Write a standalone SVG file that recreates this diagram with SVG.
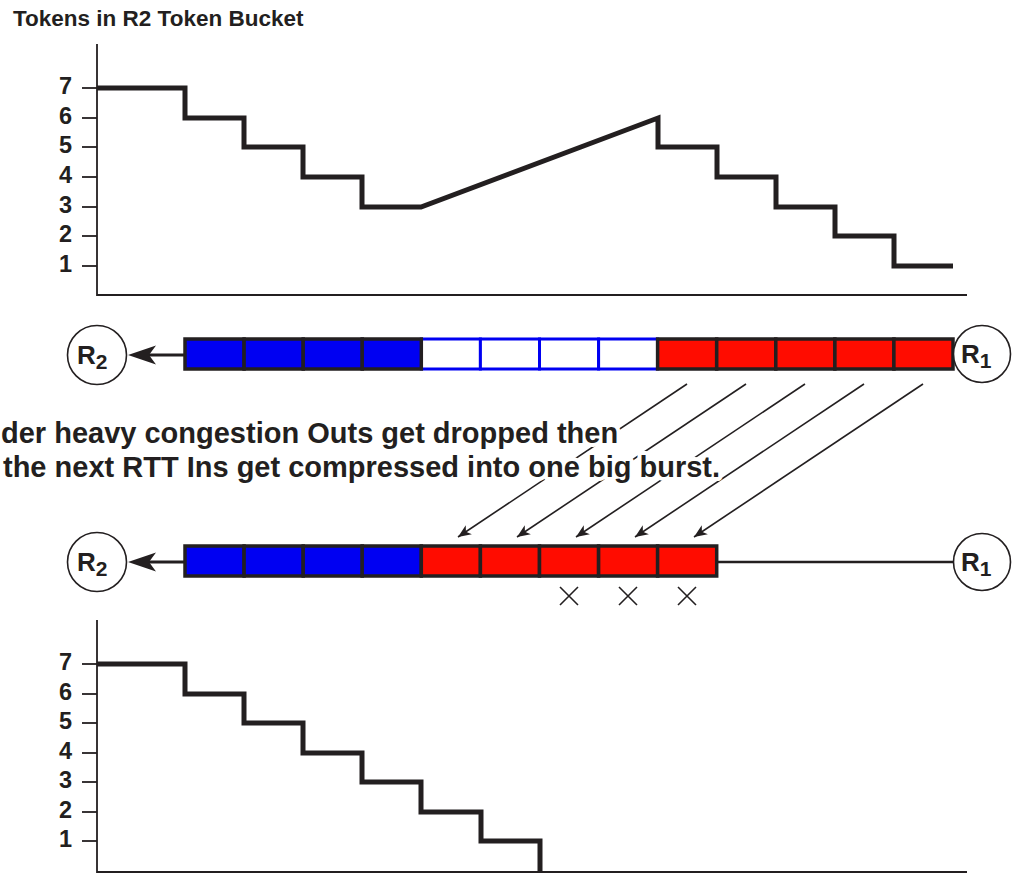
<svg xmlns="http://www.w3.org/2000/svg" width="1014" height="877" viewBox="0 0 1014 877">
  <style>
    text { font-family: "Liberation Sans", Arial, Helvetica, sans-serif; font-weight: bold; fill: #231f20; }
    .title { font-size: 22.5px; }
    .tick-label { font-size: 23.5px; text-anchor: end; }
    .caption { font-size: 29px; stroke: #ffffff; stroke-width: 8; stroke-linejoin: round; paint-order: stroke fill; }
    .rname { font-size: 26px; }
    .rsub { font-size: 21px; }
    .axis { stroke: #231f20; stroke-width: 1.8; fill: none; }
    .tick { stroke: #231f20; stroke-width: 1.8; }
    .level { stroke: #231f20; stroke-width: 5; fill: none; stroke-linejoin: miter; stroke-linecap: butt; }
    .cell-in { fill: #0000f2; stroke: #231f20; stroke-width: 3.5; }
    .cell-empty { fill: #ffffff; stroke: #0000f2; stroke-width: 3; }
    .cell-out { fill: #ff0c00; stroke: #231f20; stroke-width: 3.5; }
    .router { fill: #ffffff; stroke: #231f20; stroke-width: 1.6; }
    .link { stroke: #231f20; stroke-width: 3; fill: none; }
    .link-thin { stroke: #231f20; stroke-width: 2.4; fill: none; }
    .shift { stroke: #231f20; stroke-width: 1.6; fill: none; }
    .drop { stroke: #231f20; stroke-width: 1.6; }
  </style>
  <defs>
    <marker id="barb-small" viewBox="-14 -6 15 12" refX="0" refY="0" markerWidth="15" markerHeight="12" orient="auto" markerUnits="userSpaceOnUse">
      <path d="M0,0 L-13,-5.5 L-9.5,0 L-13,5.5 Z" fill="#231f20"/>
    </marker>
  </defs>

  <!-- upper token level chart -->
  <g id="chart-top">
    <text class="title" x="13" y="26">Tokens in R2 Token Bucket</text>
    <path class="axis" d="M97,44 V295 H967"/>
    <g class="tick">
      <line x1="82" y1="88" x2="97" y2="88"/>
      <line x1="82" y1="118" x2="97" y2="118"/>
      <line x1="82" y1="147" x2="97" y2="147"/>
      <line x1="82" y1="177" x2="97" y2="177"/>
      <line x1="82" y1="207" x2="97" y2="207"/>
      <line x1="82" y1="236" x2="97" y2="236"/>
      <line x1="82" y1="266" x2="97" y2="266"/>
    </g>
    <text class="tick-label" x="72" y="94">7</text>
    <text class="tick-label" x="72" y="124">6</text>
    <text class="tick-label" x="72" y="153">5</text>
    <text class="tick-label" x="72" y="183">4</text>
    <text class="tick-label" x="72" y="213">3</text>
    <text class="tick-label" x="72" y="242">2</text>
    <text class="tick-label" x="72" y="272">1</text>
    <polyline class="level" points="97,88 185,88 185,118 244,118 244,147 303,147 303,177 362,177 362,207 421,207 658,118 658,147 717,147 717,177 776,177 776,207 835,207 835,236 894,236 894,266 953,266"/>
  </g>

  <!-- upper link queue -->
  <g id="queue-top">
    <rect class="cell-empty" x="421.3" y="339" width="59.1" height="30"/>
    <rect class="cell-empty" x="480.4" y="339" width="59.1" height="30"/>
    <rect class="cell-empty" x="539.5" y="339" width="59.1" height="30"/>
    <rect class="cell-empty" x="598.6" y="339" width="59.1" height="30"/>
    <rect class="cell-in" x="185" y="339" width="59.1" height="30"/>
    <rect class="cell-in" x="244.1" y="339" width="59.1" height="30"/>
    <rect class="cell-in" x="303.2" y="339" width="59.1" height="30"/>
    <rect class="cell-in" x="362.2" y="339" width="59.1" height="30"/>
    <rect class="cell-out" x="657.6" y="339" width="59.1" height="30"/>
    <rect class="cell-out" x="716.7" y="339" width="59.1" height="30"/>
    <rect class="cell-out" x="775.8" y="339" width="59.1" height="30"/>
    <rect class="cell-out" x="834.9" y="339" width="59.1" height="30"/>
    <rect class="cell-out" x="893.9" y="339" width="59.1" height="30"/>
  </g>

  <g id="r2-top">
    <circle class="router" cx="97" cy="355" r="29.5"/>
    <text class="rname" x="77" y="364">R<tspan class="rsub" dy="5">2</tspan></text>
  </g>
  <g id="r1-top">
    <circle class="router" cx="982" cy="354" r="28.5"/>
    <text class="rname" x="961" y="363">R<tspan class="rsub" dy="5">1</tspan></text>
  </g>

  <!-- lower link queue -->
  <g id="queue-bottom">
    <rect class="cell-in" x="185" y="546" width="59.1" height="30"/>
    <rect class="cell-in" x="244.1" y="546" width="59.1" height="30"/>
    <rect class="cell-in" x="303.2" y="546" width="59.1" height="30"/>
    <rect class="cell-in" x="362.2" y="546" width="59.1" height="30"/>
    <rect class="cell-out" x="421.3" y="546" width="59.1" height="30"/>
    <rect class="cell-out" x="480.4" y="546" width="59.1" height="30"/>
    <rect class="cell-out" x="539.5" y="546" width="59.1" height="30"/>
    <rect class="cell-out" x="598.6" y="546" width="59.1" height="30"/>
    <rect class="cell-out" x="657.6" y="546" width="59.1" height="30"/>
    <g id="drops">
      <path class="drop" d="M560,587 L578,605 M578,587 L560,605"/>
      <path class="drop" d="M619,587 L637,605 M637,587 L619,605"/>
      <path class="drop" d="M678,587 L696,605 M696,587 L678,605"/>
    </g>
  </g>

  <g id="r2-bottom">
    <circle class="router" cx="97" cy="562" r="29.5"/>
    <text class="rname" x="77" y="571">R<tspan class="rsub" dy="5">2</tspan></text>
  </g>
  <g id="r1-bottom">
    <circle class="router" cx="982" cy="562" r="28.5"/>
    <text class="rname" x="961" y="571">R<tspan class="rsub" dy="5">1</tspan></text>
  </g>

  <!-- connectors -->
  <g id="connectors">
    <line class="link" x1="148" y1="355" x2="185" y2="355"/>
    <path d="M128,355 L156,345.5 L149,355 L156,364.5 Z" fill="#231f20"/>
    <line class="link" x1="148" y1="562" x2="185" y2="562"/>
    <path d="M128,562 L156,552.5 L149,562 L156,571.5 Z" fill="#231f20"/>
    <line class="link-thin" x1="716.7" y1="562" x2="953.5" y2="562"/>
    <line class="shift" x1="687" y1="384" x2="458" y2="537" marker-end="url(#barb-small)"/>
    <line class="shift" x1="746" y1="384" x2="517" y2="537" marker-end="url(#barb-small)"/>
    <line class="shift" x1="805" y1="384" x2="576" y2="537" marker-end="url(#barb-small)"/>
    <line class="shift" x1="864" y1="384" x2="635" y2="537" marker-end="url(#barb-small)"/>
    <line class="shift" x1="923" y1="384" x2="694" y2="537" marker-end="url(#barb-small)"/>
  </g>

  <!-- caption, knocked out of the shift lines by a white halo -->
  <g id="caption">
    <text class="caption" x="1" y="443">der heavy congestion Outs get dropped then</text>
    <text class="caption" x="3" y="477">the next RTT Ins get compressed into one big burst.</text>
  </g>

  <!-- lower token level chart -->
  <g id="chart-bottom">
    <path class="axis" d="M97,620 V872 H967"/>
    <g class="tick">
      <line x1="82" y1="664" x2="97" y2="664"/>
      <line x1="82" y1="694" x2="97" y2="694"/>
      <line x1="82" y1="723" x2="97" y2="723"/>
      <line x1="82" y1="753" x2="97" y2="753"/>
      <line x1="82" y1="782" x2="97" y2="782"/>
      <line x1="82" y1="812" x2="97" y2="812"/>
      <line x1="82" y1="841" x2="97" y2="841"/>
    </g>
    <text class="tick-label" x="72" y="670">7</text>
    <text class="tick-label" x="72" y="700">6</text>
    <text class="tick-label" x="72" y="729">5</text>
    <text class="tick-label" x="72" y="759">4</text>
    <text class="tick-label" x="72" y="788">3</text>
    <text class="tick-label" x="72" y="818">2</text>
    <text class="tick-label" x="72" y="847">1</text>
    <polyline class="level" points="97,664 185,664 185,694 244,694 244,723 303,723 303,753 362,753 362,782 421,782 421,812 481,812 481,841 540,841 540,872"/>
  </g>
</svg>
